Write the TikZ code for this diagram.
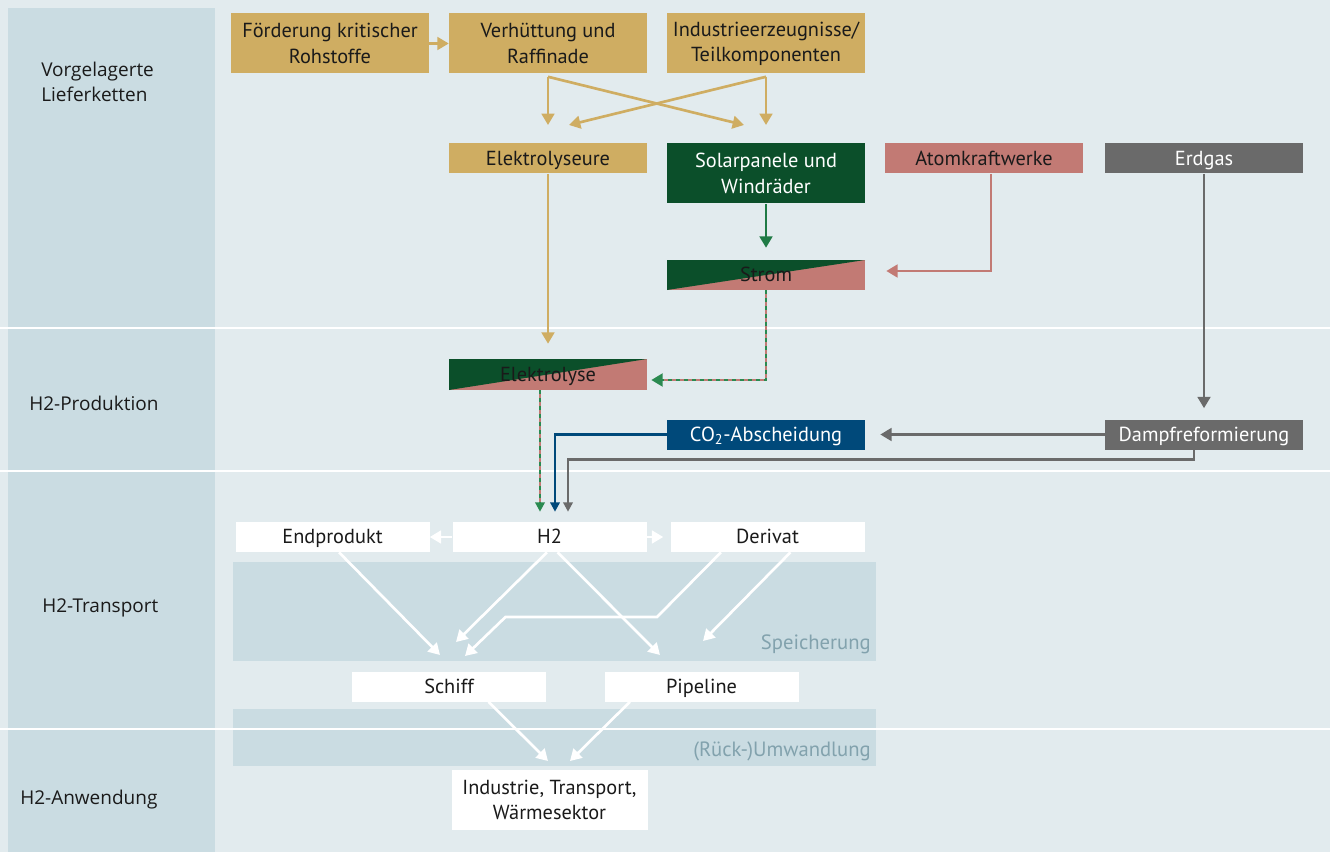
\documentclass[tikz,border=0pt]{standalone}
\usepackage{fontspec}
\setmainfont{PT Sans}
\newfontfamily\lblfont{Open Sans}
\usetikzlibrary{arrows.meta,calc}
\definecolor{bgc}{HTML}{E2EBEE}
\definecolor{colc}{HTML}{CADCE2}
\definecolor{tanc}{HTML}{CFAD62}
\definecolor{dgreen}{HTML}{0B4F2A}
\definecolor{agreen}{HTML}{1F7A45}
\definecolor{dashgreen}{HTML}{2A8A50}
\definecolor{pinkc}{HTML}{C27A74}
\definecolor{grayc}{HTML}{6A6A6A}
\definecolor{bluec}{HTML}{00497A}
\definecolor{bandtxt}{HTML}{82A2AD}
\definecolor{txtc}{HTML}{1A1A1A}
\tikzset{
  box/.style={draw=none, inner sep=0pt, minimum width=148.5pt, minimum height=22.5pt, align=center, text=txtc,
    font=\fontsize{15.25}{19}\selectfont},
  one/.style={text height=10.5pt, text depth=0.5pt},
  tall/.style={minimum height=45pt},
  wbox/.style={box, fill=white, minimum width=145.5pt},
  splitfill/.style={fill=pinkc, path picture={\fill[dgreen] (path picture bounding box.south west) -- (path picture bounding box.north west) -- (path picture bounding box.north east) -- cycle;}},
  lbl/.style={anchor=west, align=left, inner sep=0pt, text=txtc, font=\lblfont\fontsize{14.25}{18.75}\selectfont},
  bandlbl/.style={anchor=east, inner sep=0pt, text=bandtxt, font=\fontsize{15.5}{16}\selectfont},
  arr/.style={-{Triangle[length=8.5pt,width=9.5pt]}, line width=2pt},
  sarr/.style={-{Triangle[length=7pt,width=7pt]}, line width=2pt},
  warr/.style={-{Triangle[length=8.5pt,width=9.5pt]}, line width=2pt, white},
  sep/.style={white, line width=1.8pt}
}
\begin{document}
\begin{tikzpicture}[x=0.75pt,y=-0.75pt]
\useasboundingbox (0,0) rectangle (1330,852);
\fill[bgc] (0,0) rectangle (1330,852);
\fill[colc] (8,8) rectangle (215,852);
\fill[colc] (233,562) rectangle (876,661);
\fill[colc] (233,709) rectangle (876,766);
\draw[sep] (0,328) -- (1330,328);
\draw[sep] (0,471) -- (1330,471);
\draw[sep] (0,729) -- (1330,729);

% left labels
\node[lbl] (l1) at (41,81.5) {Vorgelagerte\\Lieferketten};
\node[lbl] (l2) at (29,403) {H2-Produktion};
\node[lbl] (l3) at (42,608) {H2-Transport};
\node[lbl] (l4) at (20,800) {H2-Anwendung};

\node[bandlbl] (speich) at (871,644) {Speicherung};
\node[bandlbl] (umw) at (871,751) {(Rück-)Umwandlung};

% boxes
\node[box,tall,fill=tanc] (foerd) at (330,43.5) {Förderung kritischer\\Rohstoffe};
\node[box,tall,fill=tanc] (verh) at (548,43.5) {Verhüttung und\\Raffinade};
\node[box,tall,fill=tanc] (indu) at (766,43.5) {Industrieerzeugnisse/\\Teilkomponenten};
\node[box,one,fill=tanc] (elyseure) at (548,158.5) {Elektrolyseure};
\node[box,tall,fill=dgreen,text=white] (solar) at (766,173.5) {Solarpanele und\\Windräder};
\node[box,one,fill=pinkc] (atom) at (984,158.5) {Atomkraftwerke};
\node[box,one,fill=grayc,text=white] (erdgas) at (1204,158.5) {Erdgas};
\node[box,one,splitfill] (strom) at (766,275) {Strom};
\node[box,one,splitfill,minimum height=23.25pt] (elyse) at (548,374.5) {Elektrolyse};
\node[box,one,fill=bluec,text=white] (co2) at (766,434.5) {CO\textsubscript{2}-Abscheidung};
\node[box,one,fill=grayc,text=white] (dampf) at (1204,434.5) {Dampfreformierung};
\node[wbox,one] (endp) at (332.5,537) {Endprodukt};
\node[wbox,one] (h2) at (549.5,537) {H2};
\node[wbox,one] (deriv) at (767.5,537) {Derivat};
\node[wbox,one] (schiff) at (449,686.5) {Schiff};
\node[wbox,one] (pipe) at (701.5,686.5) {Pipeline};
\node[wbox,tall,minimum width=147pt] (indus) at (549.5,800) {Industrie, Transport,\\Wärmesektor};

% free ends
\coordinate (v0) at ($(verh.south)+(0,3)$);
\coordinate (i0) at ($(indu.south)+(0,3)$);
\coordinate (t1) at (548,125);
\coordinate (t2) at (744,125);
\coordinate (t3) at (766,125);
\coordinate (t4) at (569,125);

% upstream
\draw[arr,tanc] (foerd.east) -- (verh.west);
\draw[arr,tanc] (v0) -- (t1);
\draw[arr,tanc] (v0) -- (t2);
\draw[arr,tanc] (i0) -- (t3);
\draw[arr,tanc] (i0) -- (t4);
\draw[arr,tanc] (elyseure.south) -- ($(elyse.north)+(0,-15)$);
\draw[arr,agreen] (solar.south) -- ($(strom.north)+(0,-12)$);
\coordinate (atomout) at ($(atom.south)+(7,0)$);
\coordinate (stromin) at ($(strom.east)+(21,-4)$);
\draw[arr,pinkc] (atomout) |- (stromin);
\draw[arr,grayc] (erdgas.south) -- ($(dampf.north)+(0,-11)$);
\draw[arr,grayc] (dampf.west) -- ($(co2.east)+(15,0)$);

% Strom -> Elektrolyse (dashed green on pink)
\coordinate (elyin) at ($(elyse.east)+(4,5.5)$);
\draw[pinkc, line width=2.2pt, shorten >=6pt] (strom.south) |- (elyin);
\draw[arr, line width=2.2pt, dashgreen, dash pattern=on 3pt off 3pt] (strom.south) |- (elyin);

% Elektrolyse -> H2
\coordinate (ely0) at ($(elyse.south)+(-8,0)$);
\coordinate (h2a) at ($(h2.north)+(-9.5,-10)$);
\draw[pinkc, line width=2.2pt, shorten >=5pt] (ely0) -- (h2a);
\draw[sarr, line width=2.2pt, dashgreen, dash pattern=on 3pt off 3pt] (ely0) -- (h2a);
% CO2 -> H2
\draw[sarr,bluec] (co2.west) -| ($(h2.north)+(5.5,-10)$);
% Dampf -> H2
\coordinate (dmp0) at ($(dampf.south)+(-10,0)$);
\draw[sarr,grayc] (dmp0) -- ++(0,10) -| ($(h2.north)+(18.5,-10)$);

% transport
\draw[warr] (h2.west) -- (endp.east);
\draw[warr] (h2.east) -- ($(deriv.west)+(-7,0)$);
\coordinate (s1) at (440,655);
\coordinate (s2) at (456,642);
\coordinate (s3) at (660,655);
\coordinate (s4) at (465,656);
\coordinate (s5) at (703,641);
\draw[warr] ($(endp.south)+(6.5,0)$) -- (s1);
\draw[warr] ($(h2.south)+(-2.5,0)$) -- (s2);
\draw[warr] ($(h2.south)+(8,0)$) -- (s3);
\draw[warr] ($(deriv.south)+(-46.5,0)$) -- (657,617) -- (505.5,617) -- (s4);
\draw[warr] ($(deriv.south)+(23,0)$) -- (s5);
\coordinate (u1) at (548,761);
\coordinate (u2) at (570,761);
\draw[warr] ($(schiff.south)+(39.5,0)$) -- (u1);
\draw[warr] ($(pipe.south)+(-71.5,0)$) -- (u2);
\end{tikzpicture}
\end{document}
